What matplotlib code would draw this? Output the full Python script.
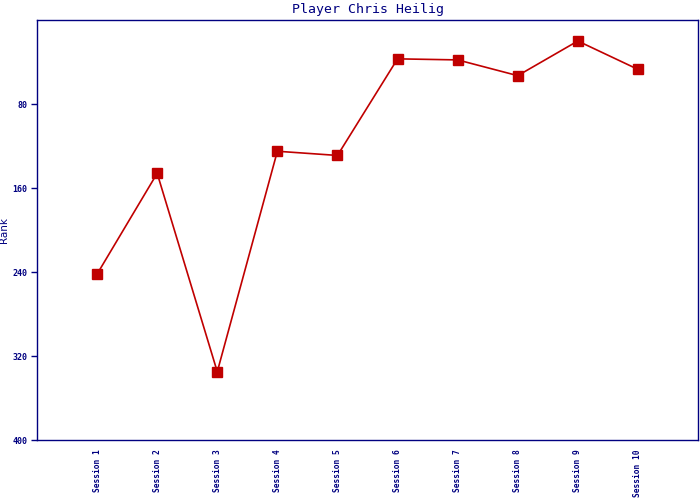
import numpy as np
import matplotlib
matplotlib.use("Agg")
import matplotlib.pyplot as plt

# session ranks
sessions = ["Session %d" % i for i in range(1, 11)]
ranks = [242, 146, 335, 125, 129, 37, 38, 53, 20, 47]
yticks = [80, 160, 240, 320, 400]

navy = "#000080"
red = "#c00000"
mono = "DejaVu Sans Mono"

fig = plt.figure(figsize=(7, 5), dpi=100)
ax = fig.add_axes([37 / 700, 0.12, 661 / 700, 0.84])

x = np.arange(1, len(sessions) + 1)
ax.plot(x, ranks, color=red, linewidth=1.2, marker="s", markersize=7,
        markeredgecolor=red, markerfacecolor=red)

ax.set_xlim(0, 11)
ax.set_ylim(400, 0)
ax.set_xticks(x)
ax.set_xticklabels(sessions, rotation=90, fontsize=5.7, family=mono,
                   color=navy, fontweight="bold")
ax.set_yticks(yticks)
ax.set_yticklabels([str(v) for v in yticks], fontsize=6, family=mono,
                   color=navy, fontweight="bold")
ax.tick_params(axis="x", length=0, pad=7)
ax.tick_params(axis="y", length=4, width=1, color=navy, pad=3)

for s in ax.spines.values():
    s.set_color(navy)
    s.set_linewidth(1)

ax.set_ylabel("Rank", fontsize=7.5, color=navy)
ax.yaxis.set_label_coords(-0.043, 0.5)
ax.set_title("Player Chris Heilig", fontsize=9.5, family=mono, color=navy, pad=5)

fig.savefig("out.png", dpi=100)
